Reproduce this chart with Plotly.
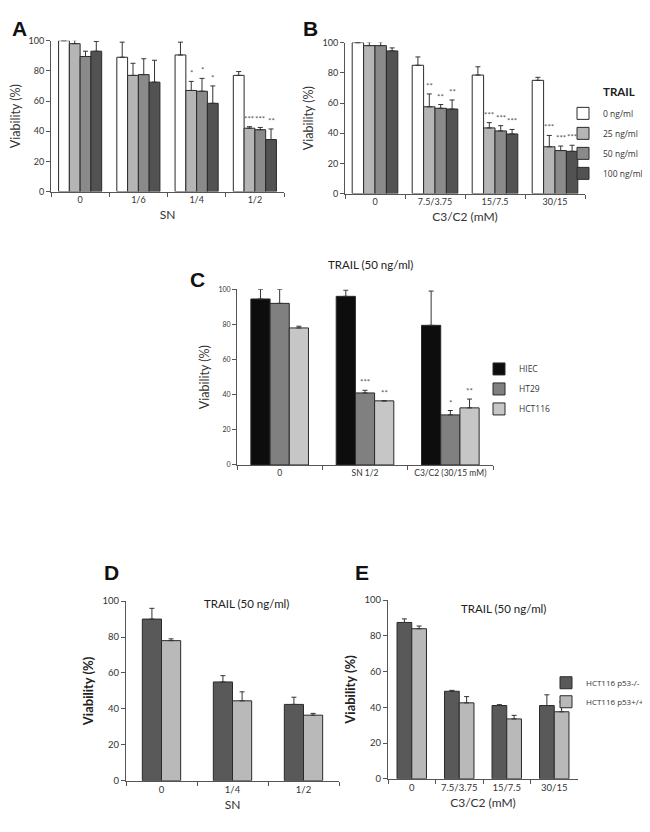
import plotly.graph_objects as go

# ---------------- DATA ----------------
# Panel A : SN dilution x TRAIL dose
A_categories = ["0", "1/6", "1/4", "1/2"]
TRAIL_doses = ["0 ng/ml", "25 ng/ml", "50 ng/ml", "100 ng/ml"]
A_values = [
    [100, 89, 90.5, 77],      # 0 ng/ml
    [98, 77, 67, 42],         # 25 ng/ml
    [89.5, 77.5, 66.5, 41],   # 50 ng/ml
    [93, 72.5, 58.5, 34.5],   # 100 ng/ml
]
A_errors = [
    [0, 10, 8.5, 2.5],
    [2.5, 8, 6, 1],
    [3.5, 10.5, 8.5, 1.5],
    [6.5, 14.5, 11.5, 7],
]
A_sig = [
    ["", "", "", ""],
    ["", "", "*", "***"],
    ["", "", "*", "***"],
    ["", "", "*", "**"],
]

# Panel B : C3/C2 x TRAIL dose
B_categories = ["0", "7.5/3.75", "15/7.5", "30/15"]
B_values = [
    [100, 85, 78.5, 75],
    [98, 57.5, 43.5, 31],
    [98, 56.5, 41.5, 28.5],
    [94.5, 56, 39.5, 28],
]
B_errors = [
    [0, 5.5, 5.5, 2],
    [2.5, 8.5, 3.5, 7.5],
    [2.5, 2.5, 3.5, 3],
    [2, 6, 3, 4],
]
B_sig = [
    ["", "", "", ""],
    ["", "**", "***", "***"],
    ["", "**", "***", "***"],
    ["", "**", "***", "***"],
]

# Panel C : cell lines, TRAIL 50 ng/ml
C_categories = ["0", "SN 1/2", "C3/C2 (30/15 mM)"]
C_lines = ["HIEC", "HT29", "HCT116"]
C_values = [
    [94.5, 96, 79.5],
    [92, 41, 28.5],
    [78, 36.5, 32.5],
]
C_errors = [
    [5.5, 3.5, 19.5],
    [8, 1.5, 2.5],
    [1, 0, 5],
]
C_sig = [
    ["", "", ""],
    ["", "***", "*"],
    ["", "**", "**"],
]

# Panel D : SN, p53 status
D_categories = ["0", "1/4", "1/2"]
p53_lines = ["HCT116 p53-/-", "HCT116 p53+/+"]
D_values = [
    [90, 55, 42.5],
    [78, 44.5, 36.5],
]
D_errors = [
    [6, 3.5, 4],
    [1, 5, 1],
]

# Panel E : C3/C2, p53 status
E_categories = ["0", "7.5/3.75", "15/7.5", "30/15"]
E_values = [
    [87.5, 49, 41, 41],
    [84, 42.5, 33.5, 37.5],
]
E_errors = [
    [2, 0.5, 0.5, 6],
    [1.5, 3.5, 2, 5.5],
]

Y_ticks = [0, 20, 40, 60, 80, 100]

# ---------------- STYLE ----------------
W, H = 650, 832
FONT = "Lato"
LEG_FONT = "Open Sans"
TRAIL_colors = ["#ffffff", "#b5b5b5", "#8a8a8a", "#525252"]
C_colors = ["#0d0d0d", "#808080", "#c6c6c6"]
p53_colors = ["#595959", "#b9b9b9"]
OUTLINE = "#2a2a2a"
AXIS = "#555555"

fig = go.Figure()


def sfx(i):
    return "" if i == 1 else str(i)


def add_panel(i, cats, names, values, errors, colors, bar_w, legend=None, sig=None):
    n = len(names)
    for j in range(n):
        off = -n * bar_w / 2 + j * bar_w
        fig.add_trace(go.Bar(
            x=cats, y=values[j], name=names[j],
            width=bar_w, offset=off,
            marker=dict(color=colors[j], line=dict(color=OUTLINE, width=1)),
            error_y=dict(type="data", array=errors[j], arrayminus=[0] * len(cats),
                         symmetric=False, color="#333333", thickness=1, width=2.5),
            xaxis="x" + sfx(i), yaxis="y" + sfx(i),
            showlegend=legend is not None,
            legend=legend if legend else "legend",
            legendgroup=f"p{i}s{j}",
        ))
        if sig:
            for k, txt in enumerate(sig[j]):
                if txt:
                    fig.add_annotation(
                        x=k + off + bar_w / 2, y=values[j][k] + errors[j][k],
                        xref="x" + sfx(i), yref="y" + sfx(i),
                        text=txt, showarrow=False, yanchor="bottom", yshift=1,
                        font=dict(family=FONT, size=8, color="#555555"),
                    )


def axes(i, cats, xpx, ypx, xtitle, ytitle, xtsize=9, ytsize=9, ytitle_font=None, xstand=6, ystand=6):
    xa = dict(
        domain=[xpx[0] / W, xpx[1] / W], anchor="y" + sfx(i),
        type="category", range=[-0.5, len(cats) - 0.5],
        tickson="boundaries", ticks="outside", ticklen=4, tickcolor=AXIS,
        showline=True, linecolor=AXIS, linewidth=1, showgrid=False, zeroline=False,
        tickfont=dict(family=FONT, size=xtsize, color="#333333"),
        title=dict(text=xtitle, font=dict(family=FONT, size=12, color="#333333"), standoff=xstand),
        fixedrange=True,
    )
    ya = dict(
        domain=[1 - ypx[1] / H, 1 - ypx[0] / H], anchor="x" + sfx(i),
        range=[0, 100], tickvals=Y_ticks, ticks="outside", ticklen=4, tickcolor=AXIS,
        showline=True, linecolor=AXIS, linewidth=1, showgrid=False, zeroline=False,
        tickfont=dict(family=FONT, size=ytsize, color="#333333"),
        title=dict(text=ytitle, font=ytitle_font or dict(family=FONT, size=12.5, color="#333333"),
                   standoff=ystand),
        fixedrange=True,
    )
    fig.update_layout(**{"xaxis" + sfx(i): xa, "yaxis" + sfx(i): ya})


add_panel(1, A_categories, TRAIL_doses, A_values, A_errors, TRAIL_colors, 0.185, None, A_sig)
add_panel(2, B_categories, TRAIL_doses, B_values, B_errors, TRAIL_colors, 0.19, "legend", B_sig)
add_panel(3, C_categories, C_lines, C_values, C_errors, C_colors, 0.225, "legend2", C_sig)
add_panel(4, D_categories, p53_lines, D_values, D_errors, p53_colors, 0.27, None)
add_panel(5, E_categories, p53_lines, E_values, E_errors, p53_colors, 0.31, "legend3")

bold_y = dict(family=FONT, size=13, color="#222222", weight="bold")
axes(1, A_categories, (43, 276), (27, 180), "SN", "Viability (%)")
axes(2, B_categories, (337, 577), (29, 182), "C3/C2 (mM)", "Viability (%)")
axes(3, C_categories, (229, 485), (279, 457), "", "Viability (%)", xtsize=8.5, ytsize=7)
axes(4, D_categories, (118, 331), (595, 777), "SN", "Viability (%)", xtsize=9.5, ytsize=9.5,
     ytitle_font=bold_y)
axes(5, E_categories, (380, 570), (594, 775), "C3/C2 (mM)", "Viability (%)", xtsize=9.5, ytsize=9.5,
     ytitle_font=bold_y)

leg_common = dict(
    xanchor="left", yanchor="top", bgcolor="rgba(0,0,0,0)",
    font=dict(family=LEG_FONT, size=8.5, color="#333333"),
    traceorder="grouped", tracegroupgap=1, itemclick=False, itemdoubleclick=False,
)
fig.update_layout(
    legend=dict(x=555 / W, y=1 - 86 / H, **leg_common),
    legend2=dict(x=471 / W, y=1 - 345 / H, **leg_common),
    legend3=dict(x=538 / W, y=1 - 663 / H,
                 **{**leg_common, "tracegroupgap": 0,
                    "font": dict(family=LEG_FONT, size=8, color="#333333")}),
)

# panel letters and titles
letters = [("A", 11, 15), ("B", 302, 15), ("C", 189, 269), ("D", 103, 566), ("E", 354, 566)]
for t, x, y in letters:
    fig.add_annotation(x=x / W, y=1 - y / H, xref="paper", yref="paper", text=t,
                       showarrow=False, xanchor="center", yanchor="middle",
                       font=dict(family="Liberation Sans", size=21, color="#111111", weight="bold"))

titles = [("TRAIL (50 ng/ml)", 362, 254), ("TRAIL (50 ng/ml)", 238, 597), ("TRAIL (50 ng/ml)", 495, 602)]
for t, x, y in titles:
    fig.add_annotation(x=x / W, y=1 - y / H, xref="paper", yref="paper", text=t,
                       showarrow=False, xanchor="center", yanchor="middle",
                       font=dict(family=FONT, size=11.5, color="#222222"))

fig.add_annotation(x=593 / W, y=1 - 79 / H, xref="paper", yref="paper", text="<b>TRAIL</b>",
                   showarrow=False, xanchor="left", yanchor="middle",
                   font=dict(family=FONT, size=11.5, color="#222222"))

fig.update_layout(
    width=W, height=H, margin=dict(l=0, r=0, t=0, b=0),
    paper_bgcolor="white", plot_bgcolor="white",
    barmode="group", showlegend=True,
    font=dict(family=FONT),
)

fig.write_html("out.html")
